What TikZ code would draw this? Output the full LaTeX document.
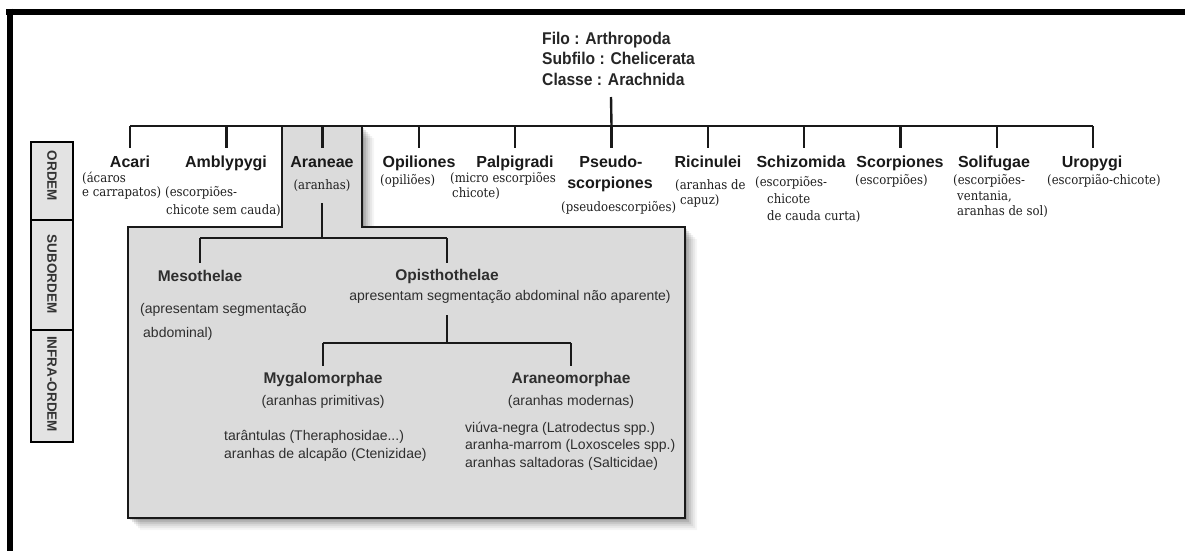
\documentclass[tikz,border=0pt]{standalone}
\usepackage{fontspec}
\setmainfont{Liberation Sans}
\newfontfamily\titlefont[FakeStretch=0.92]{Liberation Sans}
\newfontfamily\subfont[FakeStretch=0.9]{DejaVu Serif}
\begin{document}
\begin{tikzpicture}[x=1pt,y=-1pt,
  conn/.style={line width=2.4pt, black!90},
  frameline/.style={line width=6pt, black},
  titletext/.style={font=\titlefont\bfseries\fontsize{17}{20}\selectfont, inner sep=0, anchor=base west, text=black!85},
  taxon/.style={font=\fontsize{16}{18}\selectfont\bfseries, inner sep=0, anchor=base, text=black!90},
  sub/.style={font=\subfont\fontsize{13}{15}\selectfont, inner sep=0, anchor=base west, text=black!88},
  subc/.style={sub, anchor=base},
  inname/.style={font=\fontsize{15.5}{18}\selectfont\bfseries, inner sep=0, anchor=base, text=black!82},
  intext/.style={font=\fontsize{14}{17}\selectfont, inner sep=0, anchor=base west, text=black!82},
  intextc/.style={intext, anchor=base},
  rankbox/.style={draw=black, line width=1.8pt, fill=black!11},
  rank/.style={font=\fontsize{13.5}{16}\selectfont\bfseries, rotate=-90, text=black!80, inner sep=0},
  graybox/.style={fill=black!14, draw=black!90, line width=1.6pt},
]
\fill[white] (0,0) rectangle (1185,550);
\useasboundingbox (0,0) rectangle (1185,550);

% outer frame (top and left)
\draw[frameline] (6,11.5) -- (1190,11.5);
\draw[frameline] (9.5,8.5) -- (9.5,560);

% rank labels
\draw[rankbox] (31,142) rectangle (73,220);
\draw[rankbox] (31,220) rectangle (73,330);
\draw[rankbox] (31,330) rectangle (73,442);
\node[rank] (r1) at (52,176) {ORDEM};
\node[rank] (r2) at (52,274) {SUBORDEM};
\node[rank] (r3) at (52,384) {INFRA-ORDEM};

% gray Araneae area with shadow
\def\araneapath{(282,126) -- (362,126) -- (362,227) -- (685,227) -- (685,518) -- (128,518) -- (128,227) -- (282,227) -- cycle}
\foreach \s/\o in {12/0.04,10/0.05,8/0.06,6/0.08,4/0.1,2/0.12}{
  \fill[black, opacity=\o, shift={(\s,\s)}] \araneapath;
}
\draw[graybox] \araneapath;

% title
\node[titletext] (filo) at (542,44) {Filo : Arthropoda};
\node[titletext] (subfilo) at (542,64.5) {Subfilo : Chelicerata};
\node[titletext] (classe) at (542,85) {Classe : Arachnida};
\coordinate (stemtop) at (611,97);

% bar coordinates
\foreach \n/\x in {0/130,1/226.3,2/322.6,3/418.9,4/515.2,5/611.5,6/707.8,7/804.1,8/900.4,9/996.7,10/1093}{
  \coordinate (b\n) at (\x,126);
  \coordinate (t\n) at (\x,148);
}
\draw[conn, line width=2.2pt] (b0) -- (b10);
\draw[conn] (stemtop) -- (b5);
\foreach \n in {0,...,10}{ \draw[conn] (b\n) -- (t\n); }

% order names
\node[taxon] (acari) at (130,167) {Acari};
\node[taxon] (ambly) at (226,167) {Amblypygi};
\node[taxon] (aran) at (322,167) {Araneae};
\node[taxon] (opil) at (419,167) {Opiliones};
\node[taxon] (palp) at (515,167) {Palpigradi};
\node[taxon] (pseu1) at (611,167) {Pseudo-};
\node[taxon] (pseu2) at (610,188) {scorpiones};
\node[taxon] (ricin) at (708,167) {Ricinulei};
\node[taxon] (schiz) at (801,167) {Schizomida};
\node[taxon] (scorp) at (900,167) {Scorpiones};
\node[taxon] (solif) at (994,167) {Solifugae};
\node[taxon] (urop) at (1092,167) {Uropygi};

% common names
\node[sub] (s1a) at (82,182) {(ácaros};
\node[sub] (s1b) at (82,196) {e carrapatos)};
\node[sub] (s2a) at (165,196) {(escorpiões-};
\node[sub] (s2b) at (166,214) {chicote sem cauda)};
\node[subc] (s3) at (322,189) {(aranhas)};
\node[sub] (s4) at (380,184) {(opiliões)};
\node[sub] (s5a) at (450,182) {(micro escorpiões};
\node[sub] (s5b) at (452,197) {chicote)};
\node[sub] (s6) at (561,211) {(pseudoescorpiões)};
\node[sub] (s7a) at (675,189) {(aranhas de};
\node[sub] (s7b) at (680,204) {capuz)};
\node[sub] (s8a) at (755,186) {(escorpiões-};
\node[sub] (s8b) at (767,203) {chicote};
\node[sub] (s8c) at (767,220) {de cauda curta)};
\node[sub] (s9) at (855,184) {(escorpiões)};
\node[sub] (s10a) at (953,184) {(escorpiões-};
\node[sub] (s10b) at (957,200) {ventania,};
\node[sub] (s10c) at (957,215) {aranhas de sol)};
\node[sub] (s11) at (1047,184) {(escorpião-chicote)};

% inner tree: suborders
\coordinate (a0) at (322,203);
\coordinate (a1) at (322,238);
\coordinate (mtop) at (200,238);
\coordinate (mbot) at (200,263);
\coordinate (otop) at (447,238);
\coordinate (obot) at (447,263);
\draw[conn] (a0) -- (a1);
\draw[conn] (mtop) -- (otop);
\draw[conn] (mtop) -- (mbot);
\draw[conn] (otop) -- (obot);

\node[inname] (meso) at (200,281.5) {Mesothelae};
\node[intext] (meso1) at (140,313) {(apresentam segmentação};
\node[intext] (meso2) at (143,337) {abdominal)};
\node[inname] (opis) at (447,280.5) {Opisthothelae};
\node[intextc] (opis1) at (510,300) {apresentam segmentação abdominal não aparente)};

% infraorders
\coordinate (o0) at (447,315);
\coordinate (o1) at (447,343);
\coordinate (gtop) at (323,343);
\coordinate (gbot) at (323,366);
\coordinate (ntop) at (571,343);
\coordinate (nbot) at (571,366);
\draw[conn] (o0) -- (o1);
\draw[conn] (gtop) -- (ntop);
\draw[conn] (gtop) -- (gbot);
\draw[conn] (ntop) -- (nbot);

\node[inname] (myga) at (323,383.5) {Mygalomorphae};
\node[intextc] (myga1) at (323,405) {(aranhas primitivas)};
\node[intext] (myga2) at (224,440) {tarântulas (Theraphosidae...)};
\node[intext] (myga3) at (224,458) {aranhas de alcapão (Ctenizidae)};
\node[inname] (arno) at (571,383.5) {Araneomorphae};
\node[intextc] (arno1) at (571,405) {(aranhas modernas)};
\node[intext] (arno2) at (465,432) {viúva-negra (Latrodectus spp.)};
\node[intext] (arno3) at (465,449.5) {aranha-marrom (Loxosceles spp.)};
\node[intext] (arno4) at (465,467) {aranhas saltadoras (Salticidae)};
\end{tikzpicture}
\end{document}
